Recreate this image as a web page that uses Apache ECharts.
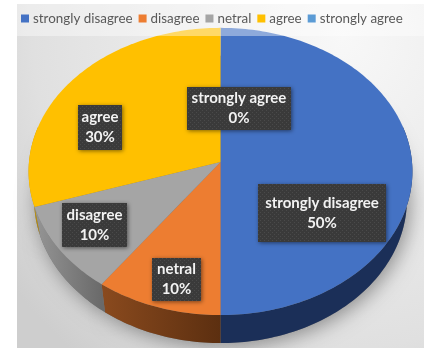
<!DOCTYPE html>
<html>
<head>
<meta charset="utf-8">
<style>html,body{margin:0;padding:0;background:#fff}#chart{width:424px;height:348px}</style>
<script src="https://cdn.jsdelivr.net/npm/echarts@6/dist/echarts.min.js"></script>
</head>
<body>
<div id="chart"></div>
<script>
// Survey responses, in drawing order (clockwise from twelve o'clock)
const legendNames = ['strongly disagree', 'disagree', 'netral', 'agree', 'strongly agree'];
const sliceLabels = ['strongly disagree', 'netral', 'disagree', 'agree', 'strongly agree'];
const shares = [50, 10, 10, 30, 0];
const colors = ['#4472c4', '#ed7d31', '#a5a5a5', '#ffc000', '#5b9bd5'];
const wallLeft = ['#1b2f58', '#8a4a1e', '#959595', '#b58800', '#2f5f8f'];
const wallRight = ['#1b2f58', '#5c2f10', '#6a6a6a', '#c79600', '#2f5f8f'];

// Perspective pie geometry
const pie = { cx: 220.5, cy: 162, a: 191.5, b: 143, tilt: 0.066, depth: 28, floorA: 186 };
// Data label boxes: left, top, width, height
const labelBoxes = [
  [258, 184, 128, 58], [152, 258, 49, 43], [62, 203, 65, 44], [78, 105, 44, 45], [187, 87, 104, 43]
];

const total = shares.reduce((s, v) => s + v, 0);
const starts = shares.map((_, i) => shares.slice(0, i).reduce((s, v) => s + v, 0) / total * Math.PI * 2);

function rim(theta, floor) {
  const u = Math.sin(theta), v = -Math.cos(theta), w = 1 - pie.tilt * v;
  return [
    pie.cx + (floor ? pie.floorA : pie.a) * u / w,
    pie.cy + pie.b * v / w + (floor ? pie.depth : 0)
  ];
}
function arc(from, to, floor) {
  const n = Math.max(2, Math.ceil((to - from) / 0.02));
  const pts = [];
  for (let i = 0; i <= n; i++) pts.push(rim(from + (to - from) * i / n, floor));
  return pts;
}

// Speckled fill used behind the data labels
const speck = document.createElement('canvas');
speck.width = speck.height = 4;
(function () {
  const c = speck.getContext('2d');
  c.fillStyle = '#3a3a3a'; c.fillRect(0, 0, 4, 4);
  c.fillStyle = '#4a4a4a'; c.fillRect(0, 0, 1, 1); c.fillRect(2, 2, 1, 1);
})();

function renderSlice(i) {
  return function () {
    const from = starts[i], to = from + shares[i] / total * Math.PI * 2;
    const children = [];
    if (shares[i] > 0) {
      // cast shadow under the disc
      children.push({
        type: 'polygon', z2: 1,
        shape: { points: [[pie.cx, pie.cy + pie.depth]].concat(arc(from, to, true)) },
        style: { fill: '#777', shadowBlur: 20, shadowColor: 'rgba(0,0,0,0.4)', shadowOffsetX: 3, shadowOffsetY: 3 }
      });
      // outer wall, only the part facing the viewer
      const a = Math.max(from, Math.PI * 0.42), b = Math.min(to, Math.PI * 1.58);
      if (b > a) {
        const pa = rim(a), pb = rim(b);
        children.push({
          type: 'polygon', z2: 2,
          shape: { points: arc(a, b, false).concat(arc(a, b, true).reverse()) },
          style: {
            fill: {
              type: 'linear', global: true,
              x: pb[0], y: 0, x2: pa[0], y2: 0,
              colorStops: [{ offset: 0, color: wallLeft[i] }, { offset: 1, color: wallRight[i] }]
            }
          }
        });
      }
      // top face
      children.push({
        type: 'polygon', z2: 3,
        shape: { points: [[pie.cx, pie.cy]].concat(arc(from, to, false)) },
        style: { fill: colors[i] }
      });
    }
    const box = labelBoxes[i];
    children.push({
      type: 'rect', z2: 10,
      shape: { x: box[0], y: box[1], width: box[2], height: box[3] },
      style: {
        fill: { image: speck, repeat: 'repeat' },
        shadowBlur: 4, shadowColor: 'rgba(0,0,0,0.5)', shadowOffsetX: 1, shadowOffsetY: 1
      }
    });
    children.push({
      type: 'text', z2: 11,
      style: {
        x: box[0] + box[2] / 2, y: box[1] + box[3] / 2,
        text: sliceLabels[i] + '\n' + shares[i] + '%',
        fill: '#f2f2f2', align: 'center', verticalAlign: 'middle',
        font: 'bold 15px Lato', lineHeight: 20
      }
    });
    return { type: 'group', children };
  };
}

const chart = echarts.init(document.getElementById('chart'), null, { renderer: 'canvas' });
chart.setOption({
  animation: false,
  backgroundColor: '#fff',
  color: colors,
  legend: {
    data: legendNames.map(name => ({ name, icon: 'rect' })),
    z: 10,
    left: 16, top: 7, itemWidth: 8, itemHeight: 8, itemGap: 6,
    textStyle: { fontFamily: 'Lato', fontSize: 13.4, color: '#595959', padding: [0, 0, 0, -1] }
  },
  graphic: [
    {
      type: 'rect', z: -1, silent: true,
      shape: { x: 17, y: 4, width: 407, height: 344 },
      style: {
        fill: {
          type: 'radial', x: 0.8, y: 0.1, r: 1.2,
          colorStops: [
            { offset: 0, color: '#f8f8f8' },
            { offset: 0.75, color: '#e0e0e0' },
            { offset: 1, color: '#cecece' }
          ]
        }
      }
    },
    {
      type: 'rect', z: 5, silent: true,
      shape: { x: 17, y: 4, width: 407, height: 32 },
      style: { fill: 'rgba(255,255,255,0.4)' }
    }
  ],
  series: legendNames.map((name, i) => ({
    type: 'custom',
    name,
    coordinateSystem: 'none',
    itemStyle: { color: colors[i] },
    data: [shares[i]],
    renderItem: renderSlice(i)
  }))
});
</script>
</body>
</html>
